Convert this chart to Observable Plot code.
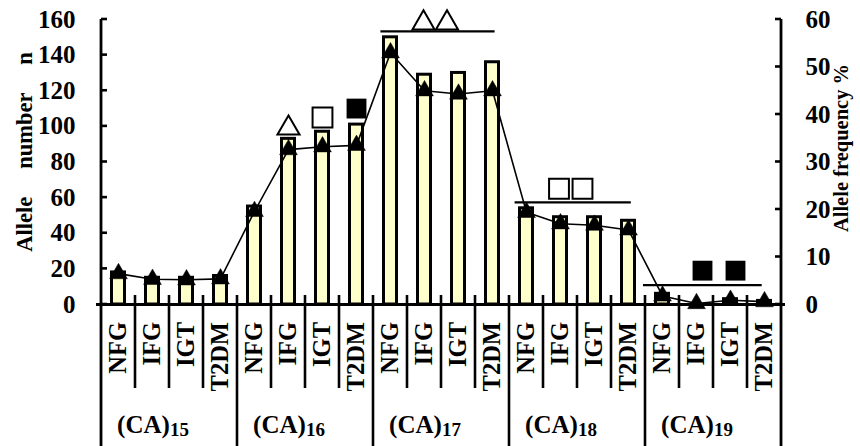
<!DOCTYPE html>
<html><head><meta charset="utf-8">
<script src="https://cdn.jsdelivr.net/npm/d3@7"></script>
<script src="https://cdn.jsdelivr.net/npm/@observablehq/plot@0.6"></script>
<style>
html,body{margin:0;padding:0;background:#fff}
</style></head><body><div id="chart"></div>
<script>
// ---- data ----
const groups = ["15", "16", "17", "18", "19"];
const subgroups = ["NFG", "IFG", "IGT", "T2DM"];
const alleleNumber = [18, 15, 15, 16, 55, 93, 97, 101, 150, 129, 130, 136, 54, 49, 49, 47, 6, 0, 3, 2];
const alleleFreq = [6.5, 5.3, 5.2, 5.4, 19.6, 32.6, 33.2, 33.5, 53.0, 45.0, 44.3, 45.0, 19.4, 17.0, 16.7, 15.7, 1.8, 0.2, 0.9, 0.6];
const leftTicks = [0, 20, 40, 60, 80, 100, 120, 140, 160];
const rightTicks = [0, 10, 20, 30, 40, 50, 60];
const leftTitle = "Allele     number     n";
const rightTitle = "Allele frequency %";
// significance marks: single (category, value in allele number units)
const singleMarks = [
  {group: "16", sub: "IFG", value: 99, symbol: "triangle", filled: false},
  {group: "16", sub: "IGT", value: 105, symbol: "square", filled: false},
  {group: "16", sub: "T2DM", value: 110, symbol: "square", filled: true}
];
// group brackets: line level and pair of symbols
const brackets = [
  {group: "17", line: 153, mark: 158, symbol: "triangle", filled: false, subs: ["IFG", "IFG"]},
  {group: "18", line: 57, mark: 65, symbol: "square", filled: false, subs: ["IFG", "IFG"]},
  {group: "19", line: 10.6, mark: 19, symbol: "square", filled: true, subs: ["IFG", "IGT"]}
];

// ---- layout (pixels) ----
const W = 860, H = 446;
const mL = 96, mR = 75, mT = 19, mB = 142;
const pairDx = {"17": [-1, 22.5], "18": [-1.5, 22], "19": [6, 5]};
const lineExt = {"17": [7.4, -14.4], "18": [5.6, -14.2], "19": [-2, -19.3]};
const font = "'Liberation Serif','Times New Roman',serif";

const ids = [];
groups.forEach(g => subgroups.forEach(s => ids.push(g + "|" + s)));
const rows = ids.map((id, i) => ({id, n: alleleNumber[i], f: alleleFreq[i]}));
const k = 160 / 60;

const symMarks = [];
singleMarks.forEach(m => {
  symMarks.push(Plot.dot([m], {
    x: d => d.group + "|" + d.sub, y: "value", symbol: m.symbol,
    r: m.symbol === "triangle" ? 8.2 : 11.2,
    fill: m.filled ? "black" : "white", stroke: "black", strokeWidth: m.filled ? 0 : 2
  }));
});
brackets.forEach(b => {
  b.subs.forEach((s, j) => {
    symMarks.push(Plot.dot([b], {
      x: d => d.group + "|" + s, y: "mark", symbol: b.symbol, dx: pairDx[b.group][j],
      r: b.symbol === "triangle" ? 8.2 : 11.2,
      fill: b.filled ? "black" : "white", stroke: "black", strokeWidth: b.filled ? 0 : 2
    }));
  });
});

const chart = Plot.plot({
  width: W, height: H,
  marginLeft: mL, marginRight: mR, marginTop: mT, marginBottom: mB,
  style: {fontFamily: font, fontWeight: "bold", fontSize: "25px", color: "black", background: "white", overflow: "visible"},
  x: {type: "band", domain: ids, padding: 0, axis: null},
  y: {domain: [0, 160], axis: null},
  marks: [
    Plot.barY(rows, {x: "id", y: "n", fill: "#ffffcc", stroke: "black", strokeWidth: 3, insetLeft: 10.5, insetRight: 10.5}),
    Plot.line(rows, {x: "id", y: d => d.f * k, stroke: "black", strokeWidth: 1.6}),
    Plot.dot(rows, {x: "id", y: d => d.f * k, symbol: "triangle", r: 6.6, fill: "black", stroke: "black", strokeWidth: 0.5}),
    ...symMarks,
    Plot.axisY(leftTicks, {anchor: "left", tickSize: 0, tickPadding: 21, label: null, fontSize: 25, fontWeight: "bold"}),
    Plot.axisY(rightTicks.map(v => v * k), {anchor: "right", tickSize: 0, tickPadding: 20, label: null, fontSize: 25, fontWeight: "bold", tickFormat: d => String(Math.round(d / k))}),
    Plot.ruleY([0], {stroke: "black", strokeWidth: 2.8})
  ]
});
document.getElementById("chart").appendChild(chart);

// ---- decorations using Plot's scales ----
const xs = chart.scale("x"), ys = chart.scale("y");
const bw = xs.bandwidth;
const svg = d3.select(chart);
const g = svg.append("g").attr("stroke", "black").attr("fill", "none");
const y0 = ys.apply(0), yTop = ys.apply(160);
const xLeft = xs.apply(ids[0]), xRight = xs.apply(ids[ids.length - 1]) + bw;

// frame verticals
[xLeft, xRight].forEach(xx => g.append("line").attr("x1", xx).attr("x2", xx).attr("y1", yTop).attr("y2", H).attr("stroke-width", 2.8));
// boundaries
for (let i = 1; i < ids.length; i++) {
  const xx = xs.apply(ids[i]);
  const isGroup = i % subgroups.length === 0;
  g.append("line").attr("x1", xx).attr("x2", xx).attr("y1", y0 - 9).attr("y2", isGroup ? H : 388).attr("stroke-width", 2.6);
}
// y ticks inward
leftTicks.forEach(v => g.append("line").attr("x1", xLeft).attr("x2", xLeft + 6).attr("y1", ys.apply(v)).attr("y2", ys.apply(v)).attr("stroke-width", 2.6));
rightTicks.forEach(v => g.append("line").attr("x1", xRight).attr("x2", xRight - 6).attr("y1", ys.apply(v * k)).attr("y2", ys.apply(v * k)).attr("stroke-width", 2.6));
// bracket lines
brackets.forEach(b => {
  const x1 = xs.apply(b.group + "|" + subgroups[0]) + lineExt[b.group][0];
  const x2 = xs.apply(b.group + "|" + subgroups[subgroups.length - 1]) + bw + lineExt[b.group][1];
  g.append("line").attr("x1", x1).attr("x2", x2).attr("y1", ys.apply(b.line)).attr("y2", ys.apply(b.line)).attr("stroke-width", 2.2);
});

const t = svg.append("g").attr("fill", "black").attr("font-family", font).attr("font-weight", "bold");
// category labels
ids.forEach(id => {
  const cx = xs.apply(id) + bw / 2 - 1;
  t.append("text").attr("transform", `translate(${cx},322) rotate(-90)`).attr("text-anchor", "end").attr("dy", "0.35em").attr("font-size", 24.5).text(id.split("|")[1]);
});
// group labels
groups.forEach(gr => {
  const cx = xs.apply(gr + "|" + subgroups[0]) + 2 * bw - 16;
  const tx = t.append("text").attr("x", cx).attr("y", 433).attr("text-anchor", "middle").attr("font-size", 25);
  tx.append("tspan").text("(CA)");
  tx.append("tspan").attr("font-size", 19).attr("dy", 3).text(gr);
});
// axis titles
t.append("text").attr("transform", `translate(32,152) rotate(-90)`).attr("text-anchor", "middle").attr("font-size", 22.5).style("white-space", "pre").text(leftTitle);
t.append("text").attr("transform", `translate(848,148) rotate(-90)`).attr("text-anchor", "middle").attr("font-size", 20.5).style("white-space", "pre").text(rightTitle);
</script>
</body></html>
